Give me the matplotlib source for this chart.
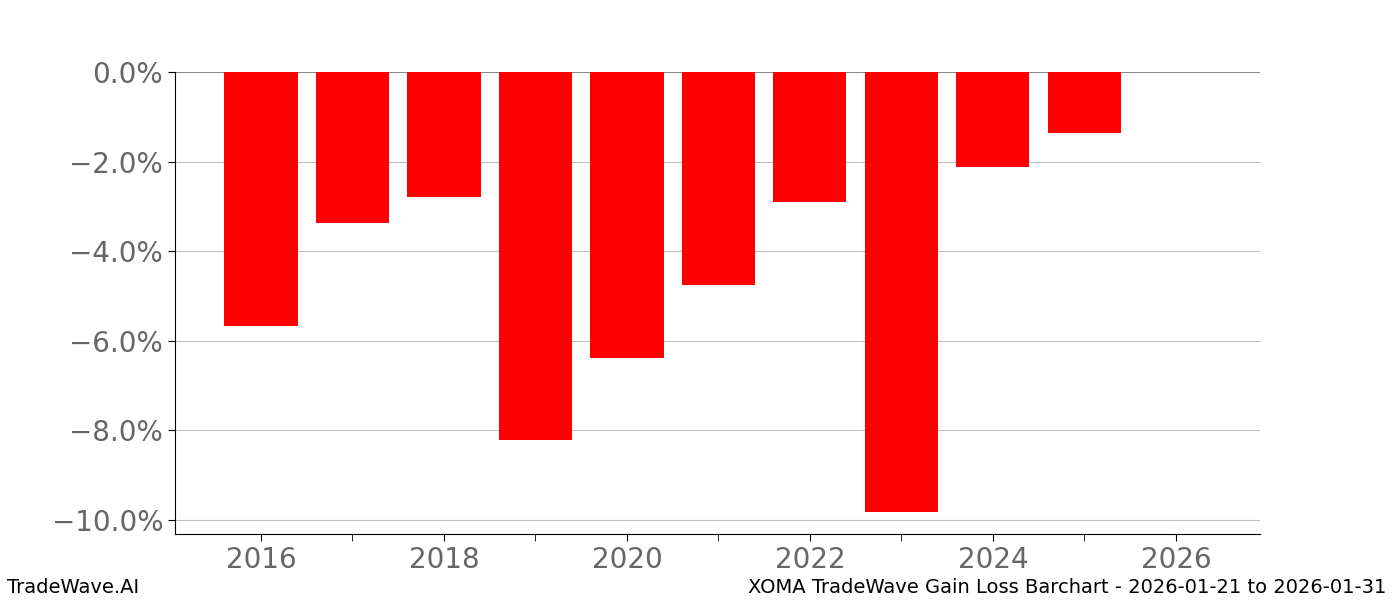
import matplotlib.pyplot as plt
from matplotlib.ticker import FuncFormatter, MultipleLocator

years = [2016, 2017, 2018, 2019, 2020, 2021, 2022, 2023, 2024, 2025]
gain_loss = [-5.67, -3.37, -2.79, -8.21, -6.38, -4.75, -2.90, -9.82, -2.12, -1.36]

fig = plt.figure(figsize=(14, 6), dpi=100)
ax = fig.add_axes([0.125, 0.11, 0.775, 0.77])

ax.bar(years, gain_loss, width=0.8, color="#ff0000", zorder=3)
ax.axhline(0, color="grey", linewidth=1.2, zorder=2)

ax.set_xlim(2015.06, 2026.92)
ax.set_ylim(-10.31, 0)
ax.yaxis.set_major_locator(MultipleLocator(2))
ax.yaxis.set_major_formatter(FuncFormatter(lambda v, p: "\u2212%.1f%%" % abs(v) if v < 0 else "%.1f%%" % abs(v)))
ax.xaxis.set_major_locator(MultipleLocator(2))
ax.xaxis.set_minor_locator(MultipleLocator(1))
ax.grid(axis="y", color="#c0c0c0", linewidth=0.8, zorder=0)

ax.spines["top"].set_visible(False)
ax.spines["right"].set_visible(False)
ax.tick_params(axis="both", which="major", labelsize=20, labelcolor="#666666", length=5)
ax.tick_params(axis="x", which="minor", length=5)

fig.text(0.005, 0.005, "TradeWave.AI", fontsize=14, ha="left", va="bottom")
fig.text(0.99, 0.005, "XOMA TradeWave Gain Loss Barchart - 2026-01-21 to 2026-01-31",
         fontsize=14, ha="right", va="bottom")

plt.savefig("out.png")
